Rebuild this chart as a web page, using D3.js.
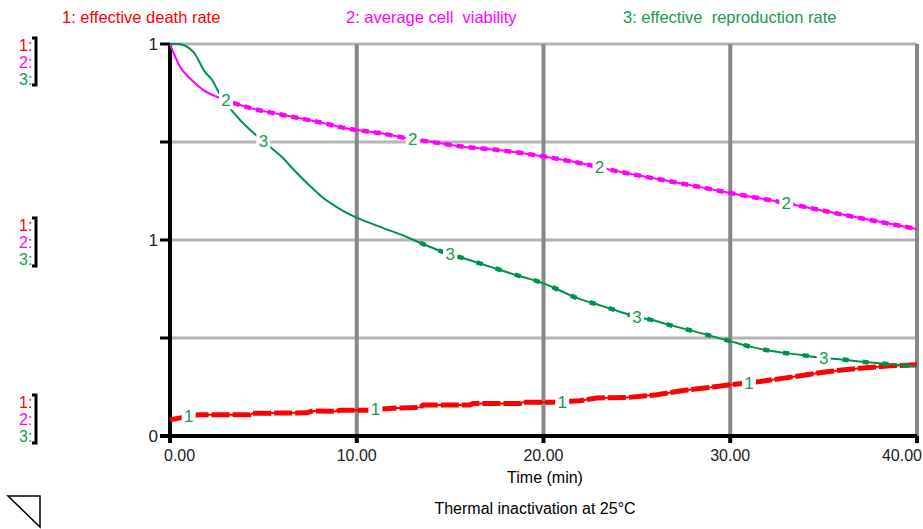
<!DOCTYPE html>
<html>
<head>
<meta charset="utf-8">
<script src="https://cdn.jsdelivr.net/npm/d3@7"></script>
<style>
  body { margin: 0; background: #fff; }
  svg { display: block; font-family: "Liberation Sans", Arial, sans-serif; }
  .pre { white-space: pre; }
</style>
</head>
<body>
<div id="chart"></div>
<script>
// --- data (y is the normalised 0..1 plot scale) ---
const seriesNames = ['1: effective death rate', '2: average cell  viability', '3: effective  reproduction rate'];
const seriesColors = ['#ff0000', '#ff00ff', '#00914a'];

const deathRate = [
    [0, 0.041], [0.18, 0.043], [1.5, 0.054], [4.28, 0.054], [4.44, 0.058], [7.32, 0.059],
    [7.66, 0.064], [8.93, 0.063], [9.1, 0.066], [10.53, 0.066], [11.94, 0.071], [13.39, 0.073],
    [13.55, 0.079], [16.06, 0.079], [16.22, 0.083], [18.74, 0.083], [18.9, 0.086], [20.5, 0.086],
    [21.95, 0.090], [22.85, 0.097], [24.45, 0.098], [26.06, 0.105], [27.47, 0.116], [29.08, 0.125],
    [29.88, 0.130], [31.59, 0.139], [33.36, 0.151], [35.16, 0.164], [36.95, 0.173], [38.55, 0.179],
    [40, 0.182]
];
const cellViability = [
    [0, 1.0], [0.54, 0.942], [1.16, 0.908], [1.77, 0.883], [2.68, 0.862], [3.37, 0.850],
    [4.28, 0.837], [6.05, 0.819], [7.86, 0.802], [9.64, 0.783], [11.2, 0.773], [12.9, 0.758],
    [13.9, 0.751], [15.7, 0.738], [17.5, 0.730], [20, 0.713], [22, 0.696], [23.8, 0.677],
    [25.5, 0.661], [27.3, 0.645], [30, 0.620], [33, 0.594], [36, 0.565], [40, 0.528]
];
const reproductionRate = [
    [0, 1.0], [0.43, 1.0], [1.25, 0.980], [1.87, 0.929], [2.30, 0.905], [2.57, 0.880],
    [3.37, 0.827], [4.28, 0.781], [4.93, 0.755], [5.45, 0.734], [6.05, 0.709], [6.59, 0.681],
    [7.12, 0.655], [7.66, 0.631], [8.19, 0.608], [8.6, 0.594], [9.10, 0.579], [10.0, 0.557],
    [11.4, 0.531], [12.67, 0.508], [13.39, 0.493], [14.89, 0.465], [15.89, 0.451], [17.14, 0.432],
    [18.37, 0.413], [19.97, 0.390], [21.85, 0.351], [23.12, 0.332], [24.1, 0.317], [24.9, 0.305],
    [25.7, 0.297], [26.77, 0.283], [28.38, 0.263], [29.99, 0.242], [31.06, 0.228], [32.3, 0.216],
    [33.73, 0.207], [34.9, 0.200], [35.83, 0.196], [36.9, 0.190], [38.38, 0.184], [40, 0.177]
];
const allSeries = [deathRate, cellViability, reproductionRate];

// where the little curve numbers sit (time)
const labelTimes = [[1, 11, 21, 31], [3, 13, 23, 33], [5, 15, 25, 35]];
// thick blocky part of each trace starts here
const thickFrom = [0, 3, 13];

const xTicks = [0, 10, 20, 30, 40];
const xTickLabels = ['0.00', '10.00', '20.00', '30.00', '40.00'];
const yTicks = [0, 0.25, 0.5, 0.75, 1];
const yTickLabels = ['0', '', '1', '', '1'];
const scaleLabels = ['1:', '2:', '3:'];

const width = 923, height = 529;
const margin = { left: 170, right: 917, top: 44, bottom: 436 };

const svg = d3.select('#chart').append('svg')
    .attr('width', width)
    .attr('height', height);

const x = d3.scaleLinear().domain([0, 40]).range([margin.left, margin.right]);
const y = d3.scaleLinear().domain([0, 1]).range([margin.bottom, margin.top]);

// gridlines
svg.append('g').selectAll('line').data(yTicks.filter(d => d > 0)).enter().append('line')
    .attr('x1', x(0)).attr('x2', x(40))
    .attr('y1', d => y(d)).attr('y2', d => y(d))
    .attr('stroke', '#b4b4b4').attr('stroke-width', 3);
svg.append('g').selectAll('line').data(xTicks.filter(d => d > 0)).enter().append('line')
    .attr('x1', d => x(d)).attr('x2', d => x(d))
    .attr('y1', y(1)).attr('y2', y(0))
    .attr('stroke', '#888').attr('stroke-width', 4);

// axes (drawn by hand to keep the Stella look)
svg.append('line').attr('x1', x(0)).attr('x2', x(0)).attr('y1', y(1)).attr('y2', y(0) + 7)
    .attr('stroke', '#000').attr('stroke-width', 4);
svg.append('line').attr('x1', x(0) - 10).attr('x2', x(40)).attr('y1', y(0)).attr('y2', y(0))
    .attr('stroke', '#000').attr('stroke-width', 4);
svg.append('g').selectAll('line').data(yTicks).enter().append('line')
    .attr('x1', x(0) - 10).attr('x2', x(0))
    .attr('y1', d => y(d)).attr('y2', d => y(d))
    .attr('stroke', '#000').attr('stroke-width', 3);
svg.append('g').selectAll('line').data(xTicks).enter().append('line')
    .attr('x1', d => x(d)).attr('x2', d => x(d))
    .attr('y1', y(0)).attr('y2', y(0) + 7)
    .attr('stroke', '#000').attr('stroke-width', 4);

svg.append('g').selectAll('text').data(yTicks).enter().append('text')
    .attr('x', x(0) - 12).attr('y', d => y(d) + 6)
    .attr('text-anchor', 'end').attr('font-size', 17).attr('fill', '#222')
    .text((d, i) => yTickLabels[i]);
svg.append('g').selectAll('text').data(xTicks).enter().append('text')
    .attr('x', (d, i) => i === 0 ? x(d) - 6 : (i === xTicks.length - 1 ? x(d) + 5 : x(d)))
    .attr('y', 461)
    .attr('text-anchor', (d, i) => i === 0 ? 'start' : (i === xTicks.length - 1 ? 'end' : 'middle'))
    .attr('font-size', 16).attr('fill', '#222')
    .text((d, i) => xTickLabels[i]);

svg.append('text').attr('x', 545).attr('y', 483).attr('text-anchor', 'middle')
    .attr('font-size', 16).text('Time (min)');
svg.append('text').attr('x', 535).attr('y', 514).attr('text-anchor', 'middle')
    .attr('font-size', 16).text('Thermal inactivation at 25\u00B0C');

// legend across the top
const legendX = [62, 346, 623];
svg.append('g').selectAll('text').data(seriesNames).enter().append('text')
    .attr('class', 'pre')
    .attr('x', (d, i) => legendX[i]).attr('y', 23)
    .attr('font-size', 16.5)
    .attr('fill', (d, i) => i === 2 ? '#1a9a50' : seriesColors[i])
    .text(d => d);

// scale brackets on the left
const bracketGroups = [
    { top: 38, bottom: 85 },
    { top: 218, bottom: 266 },
    { top: 395, bottom: 443 }
];
bracketGroups.forEach(g => {
    const gg = svg.append('g');
    gg.selectAll('text').data(scaleLabels).enter().append('text')
        .attr('x', 19).attr('y', (d, i) => g.top + 13 + i * 17)
        .attr('font-size', 16)
        .attr('fill', (d, i) => i === 2 ? '#1a9a50' : seriesColors[i])
        .text(d => d);
    gg.append('path')
        .attr('d', `M32,${g.top}H36V${g.bottom}H32`)
        .attr('fill', 'none').attr('stroke', '#000').attr('stroke-width', 3);
});

// the curves
const line = d3.line().x(d => x(d[0])).y(d => y(d[1]));
const smooth = d3.line().x(d => x(d[0])).y(d => y(d[1])).curve(d3.curveMonotoneX);
allSeries.forEach((data, i) => {
    const gen = i === 0 ? line : smooth;
    svg.append('path').datum(data)
        .attr('d', gen)
        .attr('fill', 'none').attr('stroke', seriesColors[i]).attr('stroke-width', 2);
    svg.append('path').datum(data.filter(d => d[0] >= thickFrom[i]))
        .attr('d', gen)
        .attr('fill', 'none').attr('stroke', seriesColors[i])
        .attr('stroke-width', i === 0 ? 5 : 4.5)
        .attr('stroke-dasharray', i === 0 ? '18,3' : (i === 1 ? '7,5' : '6,14'));
});

// curve numbers
const bis = d3.bisector(d => d[0]).left;
function valueAt(data, t) {
    const j = Math.max(1, bis(data, t));
    const a = data[j - 1], b = data[j];
    return a[1] + (b[1] - a[1]) * (t - a[0]) / (b[0] - a[0]);
}
allSeries.forEach((data, i) => {
    labelTimes[i].forEach(t => {
        const cx = x(t), cy = y(valueAt(data, t));
        svg.append('rect').attr('x', cx - 7).attr('y', cy - 9).attr('width', 14).attr('height', 18)
            .attr('fill', '#fff');
        svg.append('text').attr('x', cx).attr('y', cy + 6)
            .attr('text-anchor', 'middle').attr('font-size', 17).attr('fill', '#1a9a50')
            .text(i + 1);
    });
});

// little page-turn triangle bottom-left
svg.append('path').attr('d', 'M8,496H40V527Z')
    .attr('fill', '#fff').attr('stroke', '#000').attr('stroke-width', 1.5);
</script>
</body>
</html>
